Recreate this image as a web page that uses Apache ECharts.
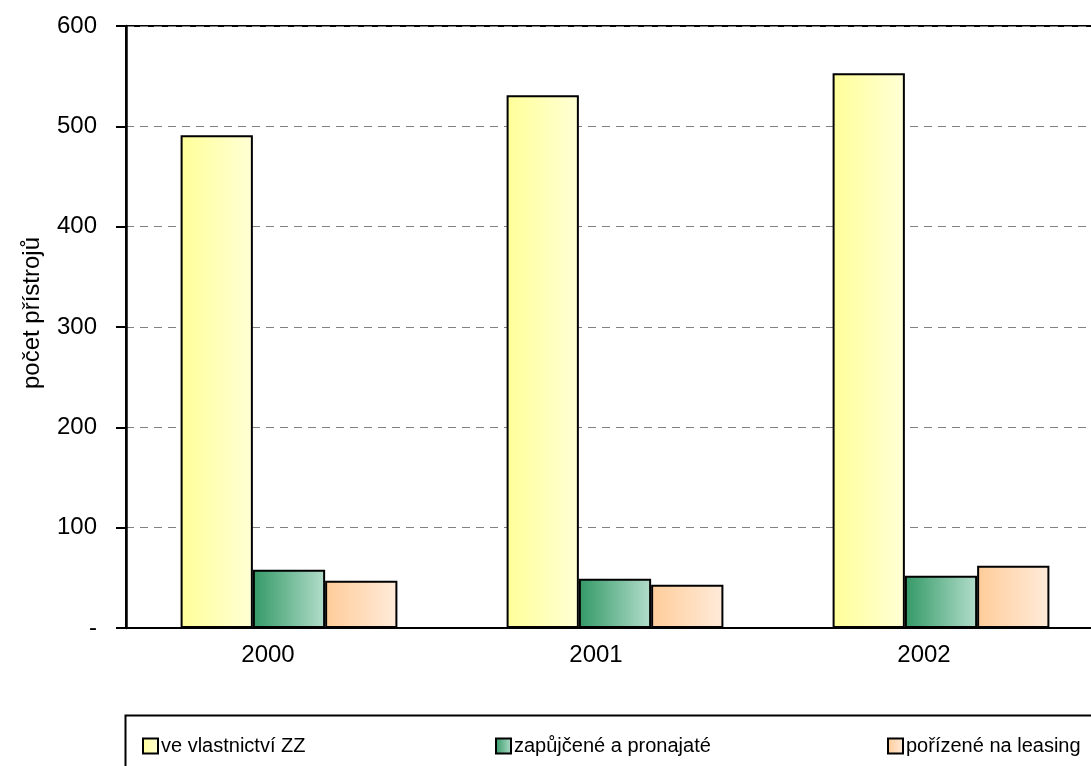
<!DOCTYPE html>
<html>
<head>
<meta charset="utf-8">
<script src="https://cdn.jsdelivr.net/npm/echarts@6/dist/echarts.min.js"></script>
<style>
html,body{margin:0;padding:0;background:#fff;overflow:hidden;}
#c{width:1110px;height:766px;}
</style>
</head>
<body>
<div id="c"></div>
<script>
const categories = ['2000', '2001', '2002'];
const seriesNames = ['ve vlastnictví ZZ', 'zapůjčené a pronajaté', 'pořízené na leasing'];
const owned = [491, 531, 553];
const borrowed = [58, 49, 52];
const leasing = [47, 43, 62];
const yTicks = [0, 100, 200, 300, 400, 500, 600];
const yTitle = 'počet přístrojů';

const FONT = '"Liberation Sans", Arial, sans-serif';
function grad(a, b) {
  return new echarts.graphic.LinearGradient(0, 0, 1, 0, [
    { offset: 0, color: a }, { offset: 1, color: b }
  ]);
}
const fills = [
  grad('#FFFF99', '#FFFFD6'),
  grad('#339966', '#B3DDCB'),
  grad('#FFCC99', '#FFEBDA')
];
const values = [owned, borrowed, leasing];

const chart = echarts.init(document.getElementById('c'));
const legendLefts = [137, 490, 882];
chart.setOption({
  animation: false,
  backgroundColor: '#fff',
  grid: [
    { left: 126, top: 26, width: 978, bottom: 138, show: true, borderColor: '#000', borderWidth: 2, backgroundColor: 'transparent' },
    { left: 104, top: 26, width: 984, bottom: 138 }
  ],
  xAxis: [
    { type: 'category', data: categories, gridIndex: 0,
      axisLine: { lineStyle: { color: '#000', width: 2 } },
      axisTick: { show: false }, axisLabel: { show: false } },
    { type: 'category', data: categories, gridIndex: 1,
      axisLine: { show: false }, axisTick: { show: false },
      axisLabel: { show: true, margin: 15, fontSize: 24, color: '#000', fontFamily: FONT } }
  ],
  yAxis: [
    { type: 'value', gridIndex: 0, min: 0, max: 600, interval: 100,
      axisLine: { show: true, lineStyle: { color: '#000', width: 2.5 } },
      axisTick: { show: true, length: 10, lineStyle: { color: '#000', width: 2 } },
      axisLabel: { margin: 29, fontSize: 24, color: '#000', fontFamily: FONT,
        formatter: v => (v === 0 ? '-' : String(v)) },
      splitLine: { show: true, lineStyle: { color: '#808080', width: 1, type: [8, 6] } } },
    { type: 'value', gridIndex: 1, min: 0, max: 600, show: false }
  ],
  legend: seriesNames.map((n, i) => ({
    data: [n], left: legendLefts[i], top: 731, itemWidth: 15, itemHeight: 15, itemGap: 4,
    icon: 'rect',
    itemStyle: { borderColor: '#000', borderWidth: 2 },
    textStyle: { fontSize: 20, color: '#000', fontFamily: FONT, padding: [0, 0, 0, -2] }
  })),
  graphic: [
    { type: 'rect', left: 123, top: 713, shape: { width: 1000, height: 80 },
      style: { fill: 'none', stroke: '#000', lineWidth: 2 }, z: 100 },
    { type: 'text', x: 32, y: 313, rotation: Math.PI / 2,
      style: { text: yTitle, fontSize: 24, fill: '#000', fontFamily: FONT,
        align: 'center', verticalAlign: 'middle' } }
  ],
  series: seriesNames.map((n, i) => ({
    name: n, type: 'bar', xAxisIndex: 0, yAxisIndex: 0,
    data: values[i], barGap: '0%', barCategoryGap: '33.5%',
    itemStyle: { color: fills[i], borderColor: '#000', borderWidth: 2 }
  }))
});
</script>
</body>
</html>
